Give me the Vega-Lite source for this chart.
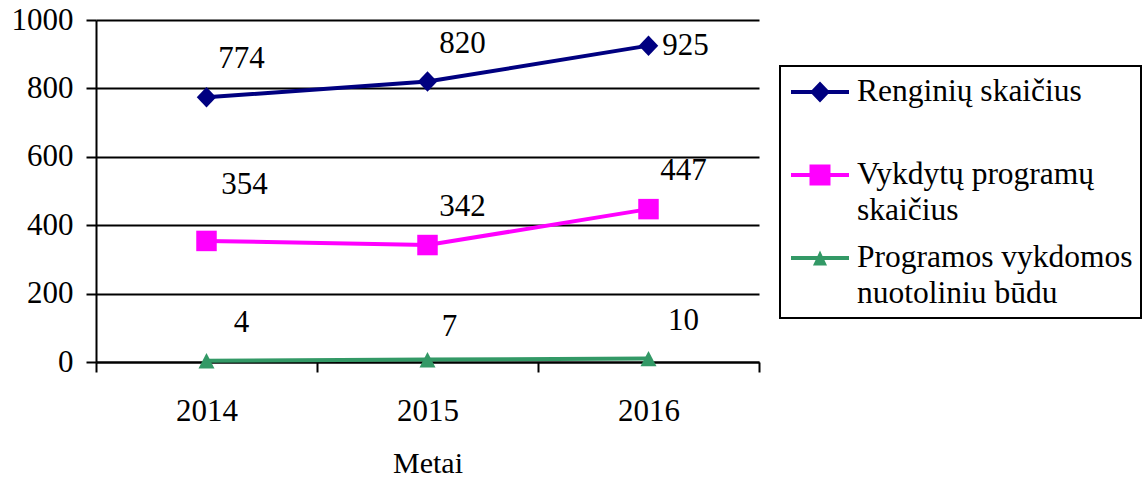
{
  "$schema": "https://vega.github.io/schema/vega-lite/v6.json",
  "width": 663,
  "height": 342,
  "autosize": {"type": "none"},
  "padding": {"left": 96, "top": 20, "right": 386, "bottom": 117},
  "config": {
    "font": "Liberation Serif",
    "view": {"stroke": null},
    "axis": {
      "domainColor": "black",
      "domainWidth": 2,
      "tickColor": "black",
      "tickWidth": 2,
      "tickSize": 10,
      "labelFontSize": 31,
      "labelColor": "black",
      "titleFontSize": 30,
      "titleFontWeight": "normal",
      "titleColor": "black",
      "gridColor": "black",
      "gridWidth": 2,
      "gridOpacity": 1
    }
  },
  "data": {
    "values": [
      {"year": "2014", "series": "Renginių skaičius", "value": 774},
      {"year": "2015", "series": "Renginių skaičius", "value": 820},
      {"year": "2016", "series": "Renginių skaičius", "value": 925},
      {"year": "2014", "series": "Vykdytų programų skaičius", "value": 354},
      {"year": "2015", "series": "Vykdytų programų skaičius", "value": 342},
      {"year": "2016", "series": "Vykdytų programų skaičius", "value": 447},
      {"year": "2014", "series": "Programos vykdomos nuotoliniu būdu", "value": 4},
      {"year": "2015", "series": "Programos vykdomos nuotoliniu būdu", "value": 7},
      {"year": "2016", "series": "Programos vykdomos nuotoliniu būdu", "value": 10}
    ]
  },
  "encoding": {
    "x": {
      "field": "year",
      "type": "ordinal",
      "scale": {"type": "band", "paddingInner": 0, "paddingOuter": 0},
      "axis": {
        "title": "Metai",
        "labelAngle": 0,
        "grid": false,
        "tickBand": "extent",
        "labelPadding": 24,
        "titlePadding": 22
      }
    },
    "y": {
      "field": "value",
      "type": "quantitative",
      "scale": {"domain": [0, 1000], "nice": false},
      "axis": {
        "title": null,
        "values": [0, 200, 400, 600, 800, 1000],
        "format": "d",
        "grid": true,
        "labelPadding": 13
      }
    },
    "color": {
      "field": "series",
      "type": "nominal",
      "scale": {
        "domain": ["Renginių skaičius", "Vykdytų programų skaičius", "Programos vykdomos nuotoliniu būdu"],
        "range": ["#000080", "#FF00FF", "#339966"]
      },
      "legend": {
        "orient": "none",
        "legendX": 684,
        "legendY": 46,
        "title": null,
        "padding": 8,
        "strokeColor": "black",
        "cornerRadius": 0,
        "fillColor": "white",
        "symbolSize": 1296,
        "symbolStrokeWidth": 0,
        "symbolOffset": 14,
        "labelFont": "Liberation Serif",
        "labelFontSize": 31.5,
        "labelColor": "black",
        "labelLimit": 400,
        "labelOffset": 19,
        "rowPadding": 13,
        "labelBaseline": "middle",
        "labelExpr": "[join(slice(split(datum.label, ' '), 0, 2), ' '), join(slice(split(datum.label, ' '), 2), ' ')]",
        "encode": {
          "legend": {
            "update": {
              "strokeWidth": {"value": 2}
            }
          },
          "symbols": {
            "update": {
              "shape": {"signal": "datum.index == 0 ? 'M-1.611,-0.111H1.611V0.111H-1.611Z M0,-0.583L0.556,0L0,0.583L-0.556,0Z' : datum.index == 1 ? 'M-1.611,-0.111H1.611V0.111H-1.611Z M-0.583,-0.583H0.583V0.583H-0.583Z' : 'M-1.611,-0.111H1.611V0.111H-1.611Z M0,-0.41L0.39,0.42H-0.39Z'"},
              "fill": {"scale": "color", "field": "value"},
              "stroke": {"value": "transparent"},
              "opacity": {"value": 1}
            }
          },
          "labels": {
            "update": {
              "lineHeight": {"value": 36}
            }
          }
        }
      }
    }
  },
  "layer": [
    {
      "mark": {"type": "line", "strokeWidth": 4}
    },
    {
      "transform": [{"filter": "datum.series == 'Renginių skaičius'"}],
      "mark": {"type": "point", "filled": true, "opacity": 1, "size": 420, "shape": "M0,-1L0.95,0L0,1L-0.95,0Z"}
    },
    {
      "transform": [{"filter": "datum.series == 'Vykdytų programų skaičius'"}],
      "mark": {"type": "point", "filled": true, "opacity": 1, "size": 420, "shape": "M-1,-1H1V1H-1Z"}
    },
    {
      "transform": [{"filter": "datum.series == 'Programos vykdomos nuotoliniu būdu'"}],
      "mark": {"type": "point", "filled": true, "opacity": 1, "size": 420, "shape": "M0,-0.74L0.78,0.76H-0.78Z"}
    },
    {
      "transform": [{"filter": "!(datum.series == 'Renginių skaičius' && datum.year == '2016') && !(datum.series == 'Vykdytų programų skaičius' && datum.year == '2014') && !(datum.series == 'Programos vykdomos nuotoliniu būdu' && datum.year == '2015')"}],
      "mark": {"type": "text", "fontSize": 31, "dx": 35, "dy": -38, "baseline": "middle"},
      "encoding": {
        "text": {"field": "value", "type": "quantitative"},
        "color": {"value": "black"}
      }
    },
    {
      "transform": [{"filter": "datum.series == 'Renginių skaičius' && datum.year == '2016'"}],
      "mark": {"type": "text", "fontSize": 31, "dx": 37, "dy": 0, "baseline": "middle"},
      "encoding": {
        "text": {"field": "value", "type": "quantitative"},
        "color": {"value": "black"}
      }
    },
    {
      "transform": [{"filter": "datum.series == 'Vykdytų programų skaičius' && datum.year == '2014'"}],
      "mark": {"type": "text", "fontSize": 31, "dx": 38, "dy": -56, "baseline": "middle"},
      "encoding": {
        "text": {"field": "value", "type": "quantitative"},
        "color": {"value": "black"}
      }
    },
    {
      "transform": [{"filter": "datum.series == 'Programos vykdomos nuotoliniu būdu' && datum.year == '2015'"}],
      "mark": {"type": "text", "fontSize": 31, "dx": 22, "dy": -33, "baseline": "middle"},
      "encoding": {
        "text": {"field": "value", "type": "quantitative"},
        "color": {"value": "black"}
      }
    }
  ]
}
